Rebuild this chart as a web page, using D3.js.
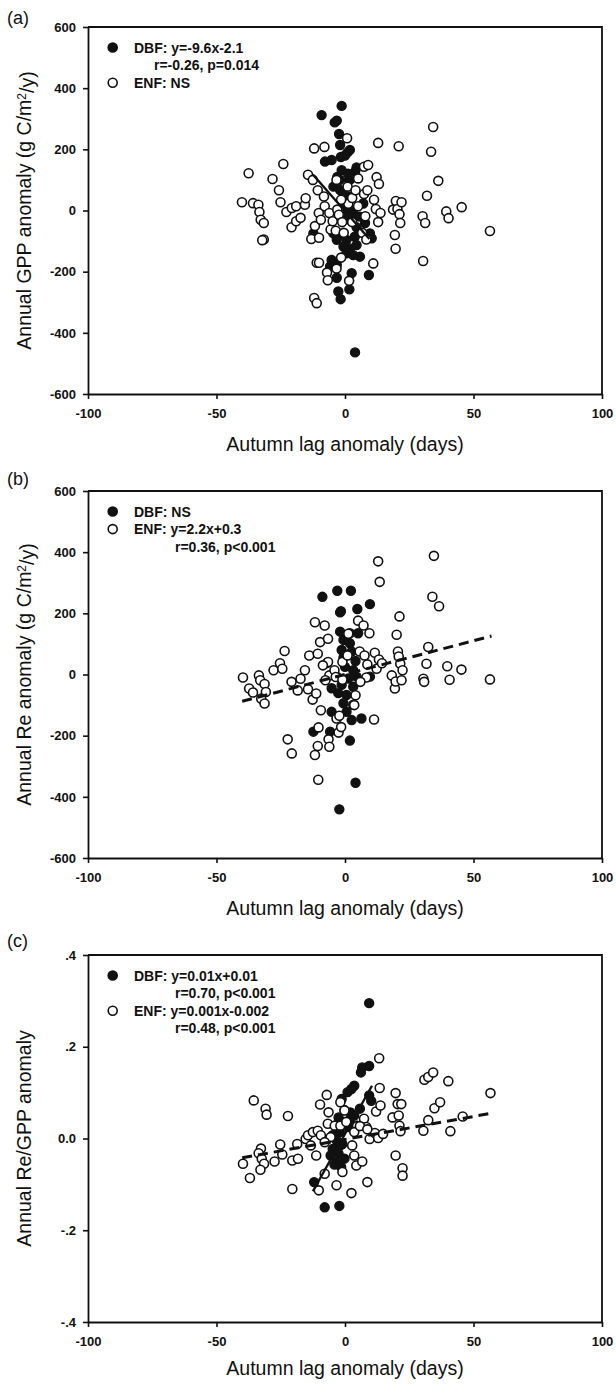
<!DOCTYPE html>
<html>
<head>
<meta charset="utf-8">
<script src="https://cdn.jsdelivr.net/npm/d3@7"></script>
<style>
  html, body { margin: 0; padding: 0; background: #fff; }
  svg { display: block; font-family: "Liberation Sans", Arial, sans-serif; }
</style>
</head>
<body>
<svg id="chart" width="616" height="1386"></svg>
<script>
// ---- data -------------------------------------------------------------
const xTicks = [-100, -50, 0, 50, 100];
const fluxTicks = [-600, -400, -200, 0, 200, 400, 600];
const ratioTicks = [-0.4, -0.2, 0, 0.2, 0.4];
const ratioTickLabels = ["-.4", "-.2", "0.0", ".2", ".4"];

// (a) annual GPP anomaly vs autumn lag anomaly
const gppDBF = [[-1.3,342],[-9.1,312],[-3.2,294],[-4,288],[-2.3,250],[-1.9,214],[1.9,198],[-7.8,160],[-5.2,165],[-1.6,175],[1.0,190],[0,180],[4.5,141],[4,128],[-1.3,132],[-1.9,100],[1.9,100],[-4.5,78],[-1.9,67],[-0.5,50],[1.9,45],[7.1,23],[3.2,0],[0.6,-9],[1.9,-20],[5.8,-20],[7.8,-41],[9.7,-75],[10.4,-91],[-12.3,-75],[-4.5,-75],[-1.3,-80],[-3.2,-96],[0.6,-96],[3.8,-86],[-0.6,-118],[1.9,-124],[4.5,-113],[0.6,-140],[3.2,-146],[5.8,-151],[-5.2,-162],[-3.2,-178],[-5.8,-183],[2.6,-205],[-3.2,-220],[9.3,-211],[1.7,-258],[-2.6,-265],[-1.7,-290],[3.9,-464],[2.5,-35],[4.5,-55],[-0.5,20],[1.2,120],[-3,110]];
const gppENF = [[-40.1,27],[-35.8,24],[-33.7,19],[-33.3,-5],[-32.8,-30],[-31.6,-41],[-31.6,-95],[-32.2,-97],[-37.5,122],[-28.2,103],[-24,152],[-25.7,66],[-25.1,27],[-22.8,-5],[-20.7,8],[-19,14],[-20.8,-55],[-19,-35],[-17.3,-24],[-15.6,19],[-15.3,40],[-14.4,117],[-12.5,100],[-12,203],[-8,208],[-13.1,-93],[-10.1,-89],[-11.7,-51],[-10.6,66],[-11,-171],[-10.1,-171],[-12,-286],[-11,-303],[-8.2,46],[-10.2,-8],[-9.4,-30],[-7.9,14],[-7,-203],[-6.7,-228],[-6.1,-8],[-5.6,-62],[-4.8,-35],[-3.6,-66],[-3.3,-190],[-3,3],[-2.4,-14],[-1.5,-154],[-1.1,-38],[-0.5,-73],[0.8,236],[1,78],[1.3,22],[1.6,-230],[2.8,41],[2.8,-38],[4.1,66],[5.1,105],[5.1,14],[6.7,-73],[7.4,143],[7.4,54],[7.9,-19],[8.3,-95],[9,149],[8.7,66],[11,-173],[11.3,35],[12,5],[12.3,109],[12.9,221],[13.2,87],[12.9,-38],[13.8,-8],[18.7,3],[19.4,-80],[19.7,-125],[19.8,31],[20.4,5],[20.9,210],[21.2,-12],[21.5,-41],[22,27],[30.2,-19],[31.2,-41],[30.4,-165],[31.9,48],[33.5,192],[34.3,273],[36.3,97],[39.4,-3],[40.3,-25],[45.4,11],[56.4,-67],[-3.3,100],[-1.5,35]];

// (b) annual Re anomaly vs autumn lag anomaly
const reDBF = [[-8.8,254],[-3,274],[2.3,274],[9.7,230],[4.8,214],[-1.9,203],[-1.6,207],[-1.9,140],[1.9,135],[5.1,135],[-0.6,113],[1.9,102],[-1.3,80],[2.6,75],[-0.6,55],[4.1,44],[0,25],[3.2,14],[4.5,-7],[9.7,-7],[-3.2,-7],[1.3,-13],[-1.3,-34],[3.2,-40],[-5.2,-45],[-2.6,-61],[0.6,-67],[-0.6,-94],[3.2,-99],[0.6,-122],[-5.2,-122],[2.6,-149],[6.4,-144],[-12.3,-187],[-5.8,-187],[1.9,-216],[4.1,-354],[-2.2,-441],[-7.1,37],[-4.5,2]];
const reENF = [[-39.7,-10],[-33.5,-3],[-37.3,-46],[-35.8,-59],[-33,-19],[-31.3,-31],[-30.8,-57],[-32.6,-79],[-31.3,-95],[-27.8,14],[-25.3,37],[-24.4,19],[-23.5,77],[-22.3,-212],[-20.7,-258],[-20.8,-24],[-18.4,-52],[-17.3,-14],[-15.6,14],[-13.9,62],[-14.4,-48],[-12.6,-82],[-11.2,-62],[-11.7,171],[-7.9,160],[-9.7,106],[-10.6,68],[-11.7,-263],[-10.6,-234],[-10.3,-173],[-10.4,-344],[-9.4,-117],[-6.4,-212],[-6.1,-236],[-6.6,117],[-6.6,41],[-8.6,30],[-6.1,-3],[-7.6,-19],[-4.1,14],[-3.6,-8],[-3.3,-144],[-2.5,-190],[-1.5,-172],[-2.2,-135],[-1,-17],[-1,41],[1,62],[1.3,133],[5.1,176],[5.7,75],[7.2,160],[9.5,135],[7.6,62],[8.7,33],[8.3,-10],[6,-24],[4.1,-68],[3.6,-100],[11.3,-147],[11.6,71],[12.3,19],[12.9,370],[13.5,303],[13.2,49],[14.4,37],[18.2,-3],[19.4,-46],[19.7,-23],[20.1,130],[20.6,75],[20.9,59],[21.2,190],[21.5,35],[22,-19],[22.4,14],[30.5,-14],[30.8,-24],[31.7,35],[32.4,90],[34,254],[34.6,388],[36.6,223],[39.8,27],[40.7,-17],[45.3,16],[56.4,-16]];

// (c) annual Re/GPP anomaly vs autumn lag anomaly
const ratioDBF = [[9.4,0.295],[9.4,0.158],[6.7,0.155],[6.2,0.144],[3.6,0.115],[1,0.101],[2.5,0.108],[9.4,0.094],[10.2,0.082],[5.8,0.065],[-1.3,0.086],[-0.2,0.062],[2.1,0.057],[3.6,0.05],[-2.5,0.046],[-0.2,0.036],[-3.6,0.028],[1.3,0.025],[-2,0.014],[-4.8,0.007],[-3.3,-0.004],[-1,-0.012],[-4.8,-0.023],[-2.5,-0.033],[-5.6,-0.037],[-0.2,-0.044],[-3.3,-0.052],[-1.5,-0.062],[-4.1,-0.057],[-12,-0.095],[-7.9,-0.15],[-2.2,-0.147],[2.1,0.043],[4.7,0.028],[-1.8,-0.015]];
const ratioENF = [[-35.5,0.083],[-30.9,0.065],[-30.5,0.052],[-22.2,0.049],[-39.7,-0.055],[-37,-0.086],[-32.7,-0.022],[-33.6,-0.032],[-32.4,-0.044],[-31.5,-0.055],[-32.9,-0.068],[-27.4,-0.05],[-25.2,-0.013],[-24.4,-0.035],[-20.5,-0.048],[-20.5,-0.11],[-18.6,-0.012],[-18.3,-0.044],[-15.3,-0.001],[-14.4,0.007],[-13.3,-0.015],[-12.5,0.014],[-10.6,0.017],[-11.2,-0.037],[-10.2,-0.113],[-9.7,0.074],[-7.1,0.095],[-7.9,-0.077],[-6.4,0.057],[-6.7,0.032],[-5.6,0.003],[-3.3,-0.102],[-1.8,0.079],[-0.2,0.061],[-1,-0.073],[2.5,-0.119],[2.8,-0.015],[3.6,-0.037],[4.4,-0.059],[6.7,-0.05],[4.7,0.027],[7.4,0.043],[8.3,0.025],[8.7,-0.095],[9.6,-0.001],[11.6,0.012],[12.1,0.059],[13.3,0.175],[13.5,0.11],[13.8,0.072],[12.9,0.001],[14.8,0.01],[18.5,0.046],[19.7,0.099],[19.7,-0.037],[20.5,0.075],[20.9,0.05],[21.2,0.028],[21.9,0.075],[21.6,0.016],[22.4,-0.065],[22.4,-0.081],[30.5,0.017],[30.9,0.128],[32.4,0.04],[32.4,0.134],[34.3,0.144],[34.8,0.066],[37,0.079],[40.2,0.125],[41,0.016],[45.8,0.048],[56.6,0.099],[-4,0.028],[-1.8,0.028],[0.5,0.036],[3.6,0.014],[5.8,0.027],[8.7,0.02],[-9.4,0.007],[-7.9,-0.008]];

// regression fits: [slope, intercept, xStart, xEnd]
const gppDBFFit = [-9.6, -2.1, -12.5, 9.5];
const reENFFit = [2.2, 0.3, -40, 57];
const ratioDBFFit = [0.01, 0.01, -12.5, 10.5];
const ratioENFFit = [0.001, -0.002, -40, 57];

// ---- layout -----------------------------------------------------------
const svg = d3.select("#chart");
const plotLeft = 88, plotRight = 602, plotH = 367;
const ink = "#111";
const R = 4.5;

const panels = [
  {
    tag: "(a)", top: 27, tagY: 24, titleDy: 57,
    yDomain: [-600, 600], yTicks: fluxTicks, yFmt: d => String(d),
    yTitle: ["Annual GPP anomaly (g C/m", "2", "/y)"],
    dbf: gppDBF, enf: gppENF,
    fits: [{ f: gppDBFFit, dash: null }],
    legend: [
      { mark: "filled", text: "DBF: y=-9.6x-2.1", indent: 0 },
      { mark: null, text: "r=-0.26, p=0.014", indent: 20 },
      { mark: "open", text: "ENF: NS", indent: 0 }
    ]
  },
  {
    tag: "(b)", top: 491, tagY: 485, titleDy: 57,
    yDomain: [-600, 600], yTicks: fluxTicks, yFmt: d => String(d),
    yTitle: ["Annual Re anomaly (g C/m", "2", "/y)"],
    dbf: reDBF, enf: reENF,
    fits: [{ f: reENFFit, dash: "10,6" }],
    legend: [
      { mark: "filled", text: "DBF: NS", indent: 0 },
      { mark: "open", text: "ENF: y=2.2x+0.3", indent: 0 },
      { mark: null, text: "r=0.36, p<0.001", indent: 41 }
    ]
  },
  {
    tag: "(c)", top: 955, tagY: 947, titleDy: 53,
    yDomain: [-0.4, 0.4], yTicks: ratioTicks, yFmt: (d, i) => ratioTickLabels[i],
    yTitle: ["Annual Re/GPP anomaly"],
    dbf: ratioDBF, enf: ratioENF,
    fits: [{ f: ratioDBFFit, dash: null }, { f: ratioENFFit, dash: "10,6" }],
    legend: [
      { mark: "filled", text: "DBF: y=0.01x+0.01", indent: 0 },
      { mark: null, text: "r=0.70, p<0.001", indent: 41 },
      { mark: "open", text: "ENF: y=0.001x-0.002", indent: 0 },
      { mark: null, text: "r=0.48, p<0.001", indent: 41 }
    ]
  }
];

const x = d3.scaleLinear().domain([-100, 100]).range([plotLeft, plotRight]);

panels.forEach(p => {
  const g = svg.append("g");
  const bottom = p.top + plotH;
  const y = d3.scaleLinear().domain(p.yDomain).range([bottom, p.top]);

  // top and right frame
  g.append("path")
    .attr("d", `M${plotLeft},${p.top}H${plotRight}V${bottom}`)
    .attr("fill", "none").attr("stroke", ink).attr("stroke-width", 1.8);

  // axes
  const xAxis = g.append("g").attr("transform", `translate(0,${bottom})`)
    .call(d3.axisBottom(x).tickValues(xTicks).tickFormat(d => String(d))
      .tickSize(5).tickSizeOuter(0).tickPadding(10));
  const yAxis = g.append("g").attr("transform", `translate(${plotLeft},0)`)
    .call(d3.axisLeft(y).tickValues(p.yTicks).tickFormat(p.yFmt)
      .tickSize(5).tickSizeOuter(0).tickPadding(7));
  [xAxis, yAxis].forEach(a => {
    a.select(".domain").attr("stroke", ink).attr("stroke-width", 1.8);
    a.selectAll(".tick line").attr("stroke", ink).attr("stroke-width", 1.6);
    a.selectAll(".tick text").attr("fill", ink)
      .style("font-family", '"Liberation Sans", Arial, sans-serif')
      .style("font-size", "13px").style("font-weight", "bold");
  });

  // panel tag
  g.append("text").attr("x", 7).attr("y", p.tagY)
    .style("font-size", "18px").attr("fill", ink).text(p.tag);

  // x title
  g.append("text").attr("x", (plotLeft + plotRight) / 2).attr("y", bottom + p.titleDy)
    .attr("text-anchor", "middle").style("font-size", "19.5px").attr("fill", ink)
    .text("Autumn lag anomaly (days)");

  // y title
  const yt = g.append("text")
    .attr("transform", `translate(31,${p.top + plotH / 2}) rotate(-90)`)
    .attr("text-anchor", "middle").style("font-size", "19.5px").attr("fill", ink);
  yt.append("tspan").text(p.yTitle[0]);
  if (p.yTitle.length > 1) {
    yt.append("tspan").attr("dy", "-0.45em").style("font-size", "12px").text(p.yTitle[1]);
    yt.append("tspan").attr("dy", "0.45em").text(p.yTitle[2]);
  }

  // points: DBF (filled) beneath ENF (open)
  g.append("g").selectAll("circle").data(p.dbf).join("circle")
    .attr("cx", d => x(d[0])).attr("cy", d => y(d[1])).attr("r", R)
    .attr("fill", ink).attr("stroke", ink).attr("stroke-width", 1.4);
  g.append("g").selectAll("circle").data(p.enf).join("circle")
    .attr("cx", d => x(d[0])).attr("cy", d => y(d[1])).attr("r", R)
    .attr("fill", "#fff").attr("stroke", ink).attr("stroke-width", 1.6);

  // regression lines
  p.fits.forEach(fit => {
    const [m, b, x0, x1] = fit.f;
    const line = d3.line().x(d => x(d)).y(d => y(m * d + b));
    g.append("path").datum([x0, x1]).attr("d", line)
      .attr("fill", "none").attr("stroke", ink)
      .attr("stroke-width", fit.dash ? 3 : 2.4)
      .attr("stroke-dasharray", fit.dash);
  });

  // legend
  const lg = g.append("g");
  p.legend.forEach((row, i) => {
    const ry = p.top + 20.5 + 17.6 * i;
    if (row.mark) {
      lg.append("circle").attr("cx", 112.7).attr("cy", ry).attr("r", R)
        .attr("fill", row.mark === "filled" ? ink : "#fff")
        .attr("stroke", ink).attr("stroke-width", 1.6);
    }
    lg.append("text").attr("x", 134 + row.indent).attr("y", ry).attr("dy", "0.36em")
      .style("font-size", "14px").style("font-weight", "bold").attr("fill", ink)
      .text(row.text);
  });
});
</script>
</body>
</html>
